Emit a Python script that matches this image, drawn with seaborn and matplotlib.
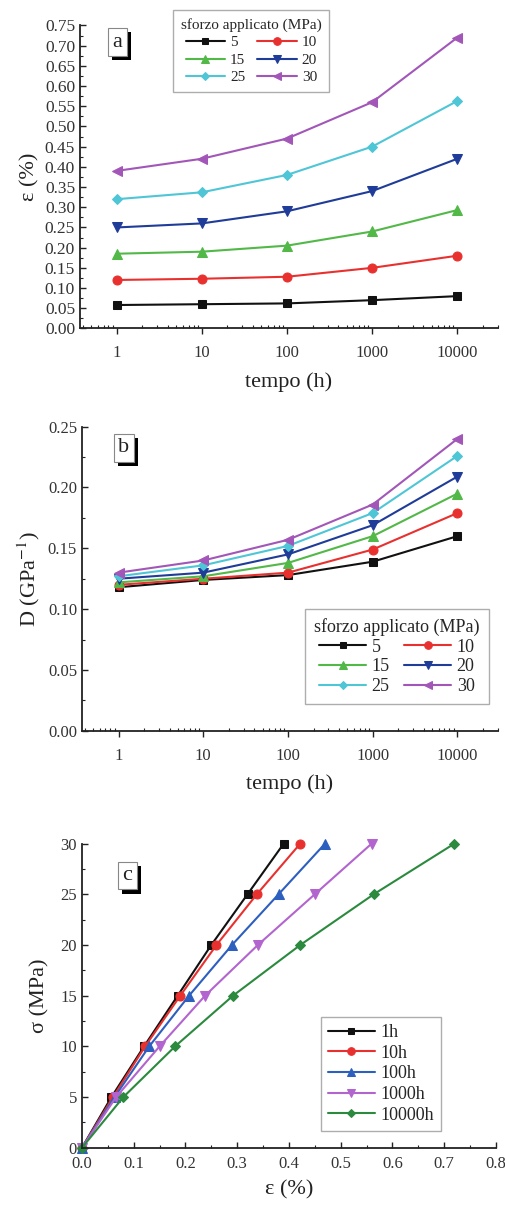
import numpy as np
import pandas as pd
import matplotlib
matplotlib.use('Agg')
import matplotlib.pyplot as plt
import matplotlib.patheffects as pe
from matplotlib.ticker import MultipleLocator, LogLocator, NullFormatter, FixedLocator
import seaborn as sns

# panel a / b : time axis
tempo = [1, 10, 100, 1000, 10000]
sforzo = ['5', '10', '15', '20', '25', '30']

eps_5 = [0.058, 0.060, 0.062, 0.070, 0.080]
eps_10 = [0.120, 0.123, 0.128, 0.150, 0.180]
eps_15 = [0.185, 0.190, 0.205, 0.240, 0.293]
eps_20 = [0.250, 0.260, 0.290, 0.340, 0.420]
eps_25 = [0.320, 0.337, 0.380, 0.450, 0.563]
eps_30 = [0.390, 0.420, 0.470, 0.560, 0.720]

D_5 = [0.118, 0.124, 0.128, 0.139, 0.160]
D_10 = [0.120, 0.125, 0.130, 0.149, 0.179]
D_15 = [0.122, 0.127, 0.138, 0.160, 0.195]
D_20 = [0.125, 0.130, 0.145, 0.169, 0.209]
D_25 = [0.127, 0.136, 0.152, 0.179, 0.226]
D_30 = [0.130, 0.140, 0.157, 0.186, 0.240]

# panel c : stress-strain isochrones
stress = [0, 5, 10, 15, 20, 25, 30]
isocrone = ['1h', '10h', '100h', '1000h', '10000h']
strain_1h = [0.0, 0.057, 0.120, 0.185, 0.250, 0.320, 0.390]
strain_10h = [0.0, 0.060, 0.122, 0.190, 0.260, 0.338, 0.422]
strain_100h = [0.0, 0.063, 0.130, 0.207, 0.290, 0.380, 0.470]
strain_1000h = [0.0, 0.066, 0.150, 0.238, 0.340, 0.450, 0.560]
strain_10000h = [0.0, 0.080, 0.180, 0.292, 0.422, 0.564, 0.720]

colors_ab = {'5': '#111111', '10': '#e8312f', '15': '#52b848', '20': '#1f3c99',
             '25': '#4fc6d6', '30': '#a257b8'}
markers_ab = {'5': 's', '10': 'o', '15': '^', '20': 'v', '25': 'D', '30': '<'}
colors_c = {'1h': '#111111', '10h': '#e8312f', '100h': '#2d5fbf',
            '1000h': '#b264cf', '10000h': '#2b8a3e'}
markers_c = {'1h': 's', '10h': 'o', '100h': '^', '1000h': 'v', '10000h': 'D'}
marker_size = {'s': 5.5, 'o': 6.5, '^': 7, 'v': 7, 'D': 5.5, '<': 7}


def long_df(series, labels, xname, xvals, yname, group):
    rows = []
    for lab, vals in zip(labels, series):
        for xv, yv in zip(xvals, vals):
            rows.append({xname: xv, yname: yv, group: lab})
    return pd.DataFrame(rows)


df_a = long_df([eps_5, eps_10, eps_15, eps_20, eps_25, eps_30], sforzo,
               'tempo', tempo, 'eps', 'sforzo')
df_b = long_df([D_5, D_10, D_15, D_20, D_25, D_30], sforzo,
               'tempo', tempo, 'D', 'sforzo')
rows = []
for lab, vals in zip(isocrone, [strain_1h, strain_10h, strain_100h, strain_1000h, strain_10000h]):
    for s, e in zip(stress, vals):
        rows.append({'strain': e, 'stress': s, 'tempo': lab})
df_c = pd.DataFrame(rows)

sns.set_style('ticks')
plt.rcParams['font.family'] = ['Liberation Serif', 'DejaVu Serif']
plt.rcParams['mathtext.fontset'] = 'stix'

fig = plt.figure(figsize=(5.06, 12.12), dpi=100)
ax_a = fig.add_axes([0.158, 0.729, 0.826, 0.250])
ax_b = fig.add_axes([0.162, 0.397, 0.822, 0.251])
ax_c = fig.add_axes([0.162, 0.053, 0.818, 0.251])


def panel_label(ax, s, x, y):
    t = ax.text(x, y, s, transform=ax.transAxes, fontsize=16, color='#222222',
                ha='center', va='center', zorder=6,
                bbox=dict(boxstyle='square,pad=0.2', fc='white', ec='#888888', lw=0.8))
    t.get_bbox_patch().set_path_effects([
        pe.SimplePatchShadow(offset=(3, -3), shadow_rgbFace='black', alpha=1.0),
        pe.Normal()])


def fix_markers(lines):
    for ln in lines:
        m = ln.get_marker()
        if m in marker_size:
            ln.set_markersize(marker_size[m])
            ln.set_markeredgecolor(ln.get_color())
            ln.set_markerfacecolor(ln.get_color())


def style_axes(ax):
    sns.despine(ax=ax)
    for sp in ['left', 'bottom']:
        ax.spines[sp].set_linewidth(1.3)
        ax.spines[sp].set_color('#222222')
    ax.tick_params(which='major', length=4, width=1.0, colors='#222222', labelcolor='#333333')
    ax.tick_params(which='minor', length=2.5, width=0.8, colors='#222222')


def time_panel(ax, df, ycol, ylim, ystep, ylabel, tick_fs):
    sns.lineplot(data=df, x='tempo', y=ycol, hue='sforzo', style='sforzo',
                 palette=colors_ab, markers=markers_ab, dashes=False,
                 hue_order=sforzo, style_order=sforzo, linewidth=1.5,
                 ax=ax, clip_on=False)
    fix_markers(ax.lines)
    ax.set_xscale('log')
    ax.set_xlim(0.37, 30000)
    ax.set_ylim(*ylim)
    ax.xaxis.set_major_locator(FixedLocator(tempo))
    ax.set_xticklabels([str(t) for t in tempo])
    ax.xaxis.set_minor_locator(LogLocator(base=10, subs=np.arange(2, 10)))
    ax.xaxis.set_minor_formatter(NullFormatter())
    ax.yaxis.set_major_locator(MultipleLocator(ystep))
    ax.yaxis.set_minor_locator(MultipleLocator(ystep / 2))
    ax.set_yticklabels([f'{v:.2f}' for v in ax.get_yticks()])
    style_axes(ax)
    ax.tick_params(axis='x', which='major', direction='out', labelsize=12, pad=8)
    ax.tick_params(axis='x', which='minor', direction='in')
    ax.tick_params(axis='y', which='both', direction='in', labelsize=tick_fs)
    ax.set_xlabel('tempo (h)', fontsize=16, color='#222222', labelpad=8)
    ax.set_ylabel(ylabel, fontsize=16, color='#222222', labelpad=4)


def reorder_legend(ax, order, **kw):
    handles, labels = ax.get_legend_handles_labels()
    lookup = dict(zip(labels, handles))
    leg = ax.legend([lookup[o] for o in order], order, **kw)
    leg.get_frame().set_edgecolor('#999999')
    leg.get_frame().set_linewidth(1.0)
    for h in leg.legend_handles:
        m = h.get_marker()
        if m in marker_size:
            h.set_markersize(marker_size[m] - 1)
            h.set_markeredgecolor(h.get_color())
            h.set_markerfacecolor(h.get_color())
    return leg


# ---- a ----
time_panel(ax_a, df_a, 'eps', (0, 0.75), 0.05, 'ε (%)', 12.5)
reorder_legend(ax_a, ['5', '15', '25', '10', '20', '30'], ncol=2,
               title='sforzo applicato (MPa)', title_fontsize=11, fontsize=11,
               loc='upper left', bbox_to_anchor=(0.205, 1.075), fancybox=False,
               handlelength=2.6, columnspacing=0.8, labelspacing=0.25,
               handletextpad=0.3, borderpad=0.5)
panel_label(ax_a, 'a', 0.09, 0.945)

# ---- b ----
time_panel(ax_b, df_b, 'D', (0, 0.25), 0.05, 'D (GPa$^{-1}$)', 12)
reorder_legend(ax_b, ['5', '15', '25', '10', '20', '30'], ncol=2,
               title='sforzo applicato (MPa)', title_fontsize=13, fontsize=13,
               loc='upper left', bbox_to_anchor=(0.515, 0.43), fancybox=False,
               handlelength=2.6, columnspacing=0.8, labelspacing=0.15,
               handletextpad=0.3, borderpad=0.5)
ax_b.yaxis.set_minor_locator(MultipleLocator(0.025))
panel_label(ax_b, 'b', 0.10, 0.93)

# ---- c ----
sns.lineplot(data=df_c, x='strain', y='stress', hue='tempo', style='tempo',
             palette=colors_c, markers=markers_c, dashes=False, sort=False,
             hue_order=isocrone, style_order=isocrone, linewidth=1.5,
             ax=ax_c, clip_on=False)
fix_markers(ax_c.lines)
ax_c.set_xlim(0, 0.8)
ax_c.set_ylim(0, 30)
ax_c.xaxis.set_major_locator(MultipleLocator(0.1))
ax_c.xaxis.set_minor_locator(MultipleLocator(0.05))
ax_c.yaxis.set_major_locator(MultipleLocator(5))
ax_c.yaxis.set_minor_locator(MultipleLocator(2.5))
ax_c.set_xticklabels([f'{v:.1f}' for v in ax_c.get_xticks()])
style_axes(ax_c)
ax_c.tick_params(which='both', direction='in', labelsize=12)
ax_c.tick_params(axis='x', pad=6)
ax_c.set_xlabel('ε (%)', fontsize=16, color='#222222', labelpad=6)
ax_c.set_ylabel('σ (MPa)', fontsize=16, color='#222222', labelpad=8)
reorder_legend(ax_c, isocrone, fontsize=13, loc='upper left',
               bbox_to_anchor=(0.555, 0.46), fancybox=False,
               handlelength=2.6, labelspacing=0.2, handletextpad=0.3,
               borderpad=0.4)
panel_label(ax_c, 'c', 0.11, 0.895)

fig.savefig('out.png', dpi=100)
